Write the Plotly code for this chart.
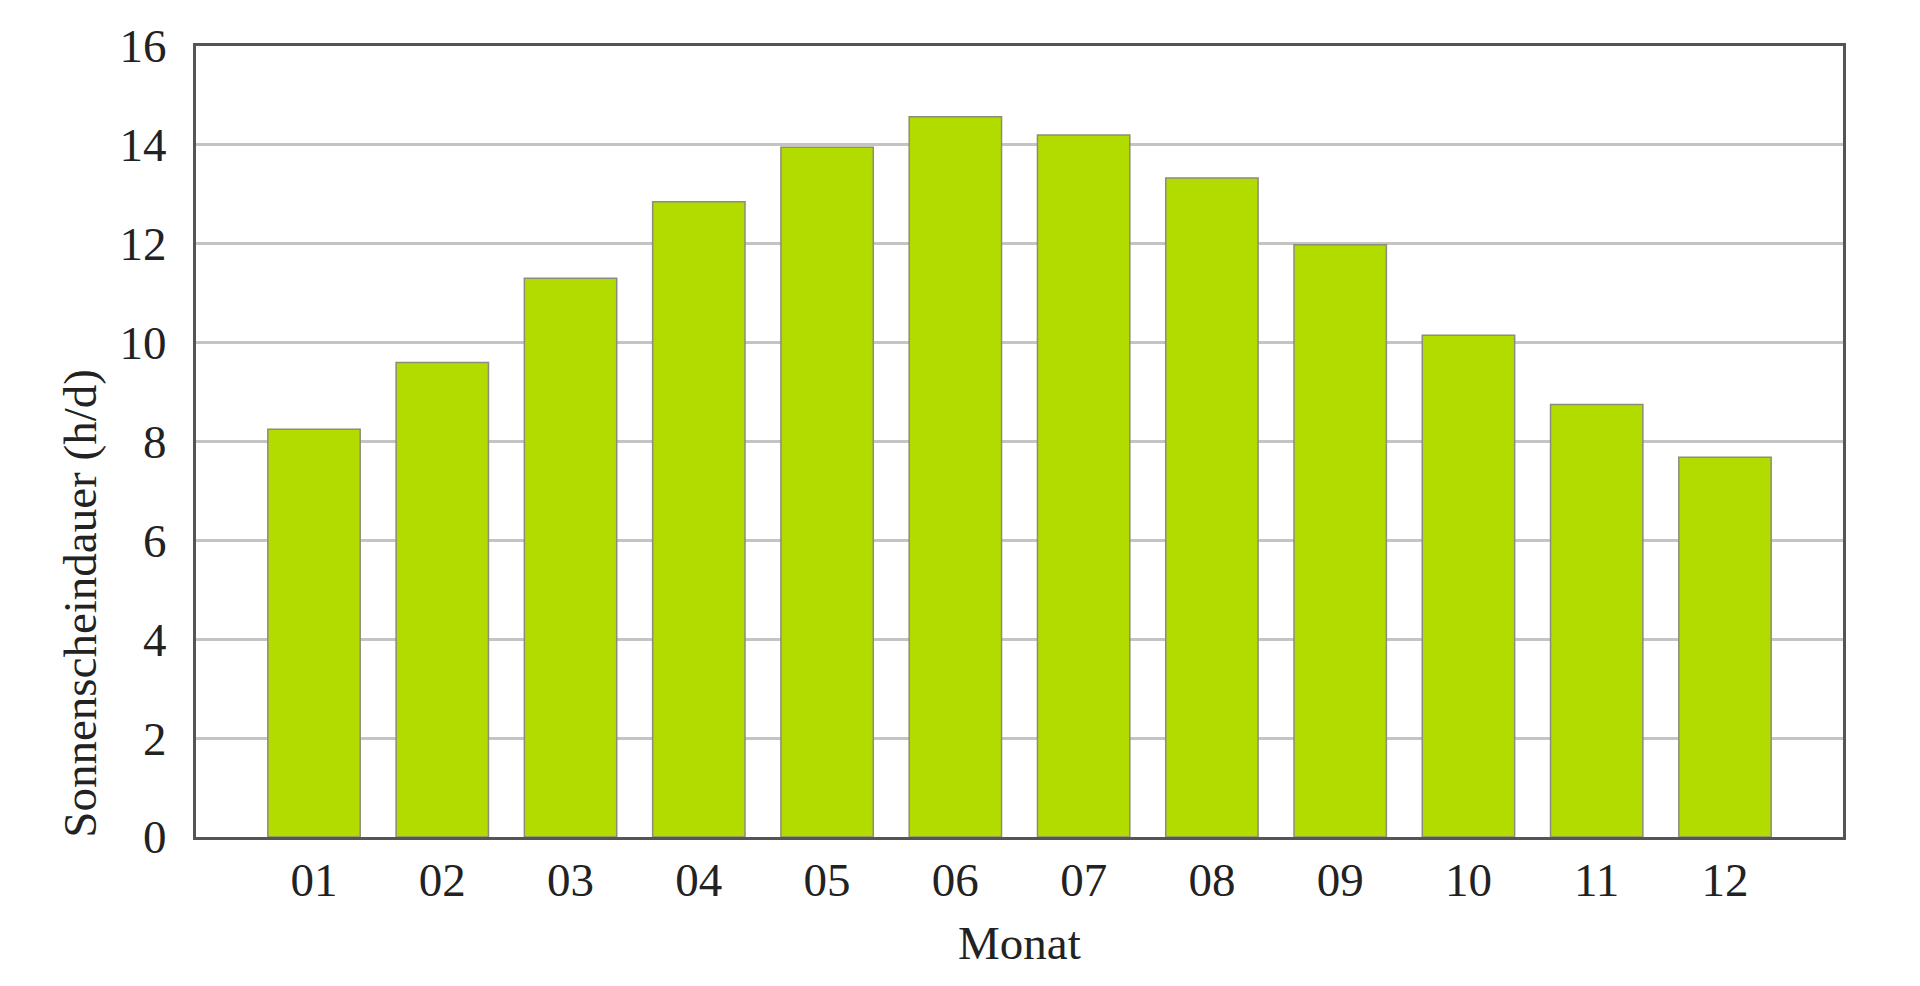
import plotly.graph_objects as go

months = ["01", "02", "03", "04", "05", "06", "07", "08", "09", "10", "11", "12"]
sunshine = [8.25, 9.6, 11.3, 12.85, 13.95, 14.57, 14.2, 13.33, 11.98, 10.15, 8.75, 7.68]
y_ticks = [0, 2, 4, 6, 8, 10, 12, 14, 16]

FONT = "Liberation Serif"
TXT = "#222222"
FS = 47

fig = go.Figure(
    go.Bar(
        x=list(range(len(months))),
        y=sunshine,
        marker=dict(color="#b2dc00", line=dict(color="#8c8c7a", width=1.5)),
        width=0.72,
    )
)

fig.update_layout(
    width=1904,
    height=970,
    paper_bgcolor="white",
    plot_bgcolor="white",
    margin=dict(l=188, r=69, t=35, b=141, pad=0),
    showlegend=False,
    font=dict(family=FONT, size=FS, color=TXT),
    xaxis=dict(
        range=[-0.92, 11.92],
        tickmode="array",
        tickvals=list(range(len(months))),
        ticktext=months,
        showgrid=False,
        showline=True,
        linecolor="#555555",
        linewidth=3,
        mirror=True,
        ticks="",
        ticklabelstandoff=0,
        tickfont=dict(family=FONT, size=FS, color=TXT),
        zeroline=False,
    ),
    yaxis=dict(
        range=[0, 16],
        tickmode="array",
        tickvals=y_ticks,
        ticktext=[str(v) for v in y_ticks],
        showgrid=True,
        gridcolor="#c4c4c4",
        gridwidth=2.5,
        showline=True,
        linecolor="#555555",
        linewidth=3,
        mirror=True,
        ticks="",
        ticklabelstandoff=17,
        tickfont=dict(family=FONT, size=FS, color=TXT),
        zeroline=False,
    ),
    annotations=[
        dict(
            text="Sonnenscheindauer (h/d)",
            xref="paper", yref="paper",
            x=-0.0704, y=0.295,
            xanchor="center", yanchor="middle",
            textangle=-90,
            showarrow=False,
            font=dict(family=FONT, size=FS, color=TXT),
        ),
        dict(
            text="Monat",
            xref="paper", yref="paper",
            x=0.5, y=-0.1335,
            xanchor="center", yanchor="middle",
            showarrow=False,
            font=dict(family=FONT, size=FS, color=TXT),
        ),
    ],
)

fig.write_html("out.html")
